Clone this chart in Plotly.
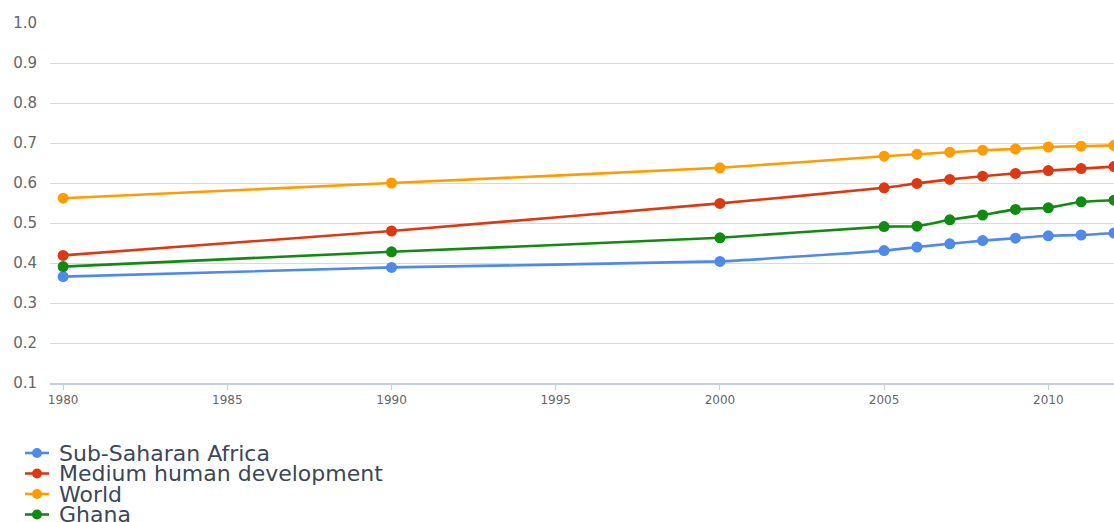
import plotly.graph_objects as go

years = [1980, 1990, 2000, 2005, 2006, 2007, 2008, 2009, 2010, 2011, 2012]

series_names = ["Sub-Saharan Africa", "Medium human development", "World", "Ghana"]
sub_saharan = [0.366, 0.389, 0.404, 0.431, 0.440, 0.448, 0.456, 0.462, 0.468, 0.470, 0.475]
medium_hd = [0.419, 0.480, 0.549, 0.588, 0.599, 0.609, 0.617, 0.624, 0.631, 0.636, 0.641]
world = [0.562, 0.600, 0.638, 0.667, 0.672, 0.677, 0.682, 0.685, 0.690, 0.692, 0.694]
ghana = [0.391, 0.428, 0.463, 0.491, 0.492, 0.508, 0.520, 0.534, 0.538, 0.553, 0.557]
series_values = [sub_saharan, medium_hd, world, ghana]
colors = ["#4f8aea", "#dc3912", "#ff9c00", "#118a12"]

y_ticks = [0.1, 0.2, 0.3, 0.4, 0.5, 0.6, 0.7, 0.8, 0.9, 1.0]
x_ticks = [1980, 1985, 1990, 1995, 2000, 2005, 2010]

W, H = 1114, 522
ml, mr, mt, mb = 50, 0, 23, 139
pw, ph = W - ml - mr, H - mt - mb

fig = go.Figure()
for name, vals, col in zip(series_names, series_values, colors):
    fig.add_trace(go.Scatter(
        x=years, y=vals, name=name, mode="lines+markers",
        line=dict(color=col, width=2.6, shape="spline", smoothing=0.4),
        marker=dict(color=col, size=11),
        showlegend=False, cliponaxis=False,
    ))

# manual legend (tight spacing as in the original)
legend_rows = [453, 473.5, 494, 514.5]
shapes = []
annotations = []
for name, col, ypx in zip(series_names, colors, legend_rows):
    yp = (H - mb - ypx) / ph
    x0 = (25 - ml) / pw
    x1 = (49 - ml) / pw
    xc = (37 - ml) / pw
    shapes.append(dict(type="line", xref="paper", yref="paper", x0=x0, x1=x1, y0=yp, y1=yp,
                       line=dict(color=col, width=2.6)))
    shapes.append(dict(type="circle", xref="paper", yref="paper",
                       xsizemode="pixel", ysizemode="pixel", xanchor=xc, yanchor=yp,
                       x0=-5, x1=5, y0=-5, y1=5,
                       fillcolor=col, line=dict(color=col, width=0)))
    annotations.append(dict(text=name, xref="paper", yref="paper",
                            x=(58 - ml) / pw, y=yp, xanchor="left", yanchor="middle",
                            showarrow=False, borderpad=0,
                            font=dict(family="DejaVu Sans", size=22, color="#3d4756")))

fig.update_layout(
    width=W, height=H,
    margin=dict(l=ml, r=mr, t=mt, b=mb, autoexpand=False),
    paper_bgcolor="white", plot_bgcolor="white",
    shapes=shapes, annotations=annotations,
    xaxis=dict(range=[1979.6, 2012.0], tickvals=x_ticks, ticktext=[str(v) for v in x_ticks],
               showgrid=False, zeroline=False,
               showline=True, linecolor="#c4d0e2", linewidth=1.5,
               ticks="outside", ticklen=5, tickcolor="#c4d0e2", tickwidth=1,
               tickfont=dict(family="DejaVu Sans", size=12, color="#666666")),
    yaxis=dict(range=[0.1, 1.0], tickvals=y_ticks, ticktext=[f"{v:.1f}" for v in y_ticks],
               showgrid=True, gridcolor="#d9d9d9", gridwidth=1, zeroline=False,
               showline=False, ticks="", ticklabelstandoff=12,
               tickfont=dict(family="DejaVu Sans", size=15, color="#666666")),
)

fig.write_html("out.html")
